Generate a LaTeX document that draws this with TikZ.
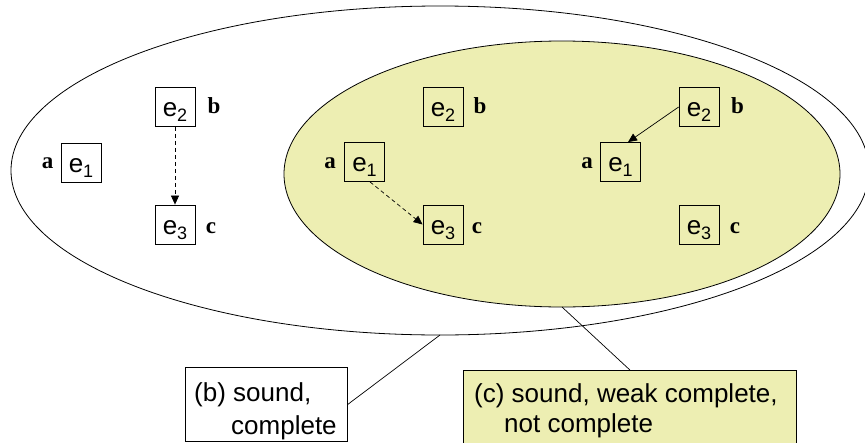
\documentclass[tikz,border=0pt]{standalone}
\usepackage{fontspec}
\setmainfont{Liberation Serif}
\setsansfont{Liberation Sans}
\usetikzlibrary{shapes.geometric,arrows.meta}
\definecolor{paleyellow}{RGB}{237,238,178}
\newcommand{\esub}[2]{#1\raisebox{-5pt}{\fontsize{18}{18}\selectfont #2}}
\tikzset{
  ebox/.style={draw=black, line width=0.8pt, minimum width=40pt, minimum height=39pt, inner sep=0pt,
    font=\sffamily\fontsize{26}{26}\selectfont, text height=19pt, text depth=0pt},
  elbl/.style={anchor=base, inner sep=0pt, font=\bfseries\fontsize{23}{23}\selectfont},
  ltxt/.style={anchor=base west, inner sep=0pt, font=\sffamily\fontsize{26}{26}\selectfont},
  lblbox/.style={draw=black, line width=0.8pt, anchor=north west, inner sep=0pt},
  conn/.style={draw=black, line width=0.7pt},
  dasharrow/.style={draw=black, line width=0.7pt, dash pattern=on 4pt off 3pt, -{Triangle[length=9pt,width=8pt]}},
  solidarrow/.style={draw=black, line width=0.7pt, -{Triangle[length=9pt,width=8pt]}},
}
\begin{document}
\begin{tikzpicture}[x=1pt,y=-1pt]
\useasboundingbox (0,0) rectangle (865,442);
\clip (0,0) rectangle (865,442);
\fill[white] (0,0) rectangle (865,442);

% ellipses
\node[ellipse, draw=black, line width=0.8pt, inner sep=0pt, outer sep=0pt,
      minimum width=858pt, minimum height=329pt] (outer) at (440,170.5) {};
\node[ellipse, draw=black, fill=paleyellow, line width=0.8pt, inner sep=0pt, outer sep=0pt,
      minimum width=556pt, minimum height=266pt] (inner) at (562,174) {};

% left panel
\node[ebox] (L1) at (81,162.5) {\esub{e}{1}};
\node[ebox] (L2) at (175,107) {\esub{e}{2}};
\node[ebox] (L3) at (175,224.5) {\esub{e}{3}};
\node[elbl] (La) at (47.5,168) {a};
\node[elbl] (Lb) at (214,113) {b};
\node[elbl] (Lc) at (211,233) {c};
\draw[dasharrow] (L2.south) -- (L3.north);

% middle panel
\node[ebox] (M1) at (364.5,162) {\esub{e}{1}};
\node[ebox] (M2) at (443,107) {\esub{e}{2}};
\node[ebox] (M3) at (443,224.5) {\esub{e}{3}};
\node[elbl] (Ma) at (330,168) {a};
\node[elbl] (Mb) at (480,113) {b};
\node[elbl] (Mc) at (477,233) {c};
\draw[dasharrow] ([xshift=5.5pt]M1.south) -- (M3.west);

% right panel
\node[ebox] (R1) at (620.5,162) {\esub{e}{1}};
\node[ebox] (R2) at (699,107) {\esub{e}{2}};
\node[ebox] (R3) at (699,224.5) {\esub{e}{3}};
\node[elbl] (Ra) at (587,168) {a};
\node[elbl] (Rb) at (737.5,113) {b};
\node[elbl] (Rc) at (735,233) {c};
\draw[solidarrow] (R2.west) -- ([xshift=7.5pt]R1.north);

% label boxes
\node[lblbox, fill=white, minimum width=162pt, minimum height=74pt] (BL) at (185,367) {};
\node[ltxt] (BL1) at (194,401) {(b) sound,};
\node[ltxt] (BL2) at (231,434) {complete};
\node[lblbox, fill=paleyellow, minimum width=333pt, minimum height=82pt] (CL) at (463,370) {};
\node[ltxt] (CL1) at (474,402) {(c) sound, weak complete,};
\node[ltxt] (CL2) at (504,432) {not complete};

% connectors
\draw[conn] (BL.east) -- (outer.south);
\draw[conn] (inner.south) -- (CL.north);
\end{tikzpicture}
\end{document}
